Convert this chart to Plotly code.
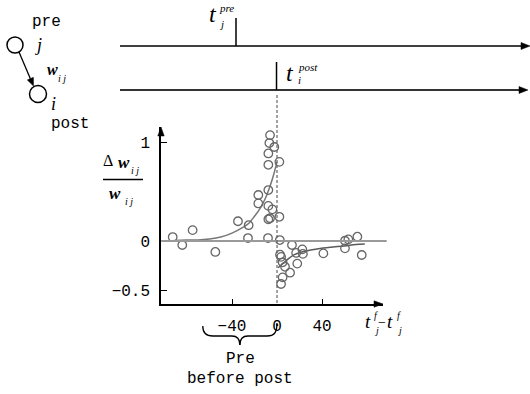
import plotly.graph_objects as go

# ---------------- data ----------------
pre_dt = [-92.7, -84.2, -75.0, -54.8, -34.7, -25.2, -25.8, -16.6, -16.6, -7.7,
          -7.7, -4.1, -7.7, -6.2, -8.0, -7.7, -7.7, -6.8, -6.2, -2.4]
pre_dw = [0.04, -0.04, 0.11, -0.11, 0.20, 0.16, 0.03, 0.465, 0.38, 0.515,
          0.355, 0.32, 0.22, 0.23, 0.03, 0.77, 0.885, 0.99, 1.07, 0.95]
post_dt = [2.1, 2.1, 2.5, 13.3, 2.7, 3.6, 5.0, 7.1, 11.6, 5.0, 3.6, 17.0,
           18.0, 22.5, 23.0, 41.2, 60.4, 63.4, 71.4, 60.4, 75.3, 97.5]
post_dw = [0.80, 0.245, 0.01, -0.04, -0.138, -0.16, -0.215, -0.26, -0.32, -0.367,
           -0.434, -0.12, -0.228, -0.084, -0.13, -0.125, 0.003, 0.017, 0.044, -0.074,
           -0.141, -0.007]

ltp_x = [-95, -80, -70, -60, -50, -40, -30, -25, -20, -15, -10, -6, -3, 0]
ltp_y = [0.00, 0.01, 0.01, 0.02, 0.04, 0.08, 0.14, 0.18, 0.25, 0.33, 0.44, 0.56, 0.67, 0.80]
ltd_x = [1, 3, 6, 10, 15, 22, 30, 41, 50, 60, 70, 78]
ltd_y = [-0.27, -0.25, -0.22, -0.18, -0.14, -0.11, -0.09, -0.07, -0.06, -0.05, -0.035, -0.03]

x_ticks = [-40, 0, 40]
x_ticklabels = ["\u221240", "0", "40"]
y_ticks = [-0.5, 0, 1]
y_ticklabels = ["\u22120.5", "0", "1"]
zero_line_x = [-103, 97.5]
brace_x = [-66, 0]

W, H = 530, 394
# data axis frame in pixels
X_RANGE = [-103.1, 94.2]
Y_RANGE = [-0.636, 1.152]
PX0, PX1 = 161, 383
PY0, PY1 = 304, 127   # bottom, top


def px(x):
    return PX0 + (x - X_RANGE[0]) / (X_RANGE[1] - X_RANGE[0]) * (PX1 - PX0)


def py(y):
    return PY0 + (y - Y_RANGE[0]) / (Y_RANGE[1] - Y_RANGE[0]) * (PY1 - PY0)


def P(xp, yp):
    return xp / W, 1 - yp / H


fig = go.Figure()

marker = dict(symbol="circle-open", size=8.5, color="#666666", line=dict(width=1.3))
fig.add_trace(go.Scatter(x=ltp_x, y=ltp_y, mode="lines", line=dict(color="#777777", width=1.5, shape="spline"),
                         hoverinfo="skip"))
fig.add_trace(go.Scatter(x=ltd_x, y=ltd_y, mode="lines", line=dict(color="#5a5a5a", width=1.5, shape="spline"),
                         hoverinfo="skip"))
fig.add_trace(go.Scatter(x=pre_dt, y=pre_dw, mode="markers", marker=marker, cliponaxis=False))
fig.add_trace(go.Scatter(x=post_dt, y=post_dw, mode="markers", marker=marker, cliponaxis=False))

shapes = []
annotations = []


def line(x0, y0, x1, y1, color="black", width=1.5, dash="solid"):
    a, b = P(x0, y0)
    c, d = P(x1, y1)
    shapes.append(dict(type="line", xref="paper", yref="paper", x0=a, y0=b, x1=c, y1=d,
                       line=dict(color=color, width=width, dash=dash), layer="above"))


def tri(tip, base_c, half, color="black"):
    tx, ty = tip
    bx, by = base_c
    dx, dy = tx - bx, ty - by
    L = (dx * dx + dy * dy) ** 0.5
    nx, ny = -dy / L * half, dx / L * half
    pts = [(tx, ty), (bx + nx, by + ny), (bx - nx, by - ny)]
    path = "M " + " L ".join("%f,%f" % P(*p) for p in pts) + " Z"
    shapes.append(dict(type="path", xref="paper", yref="paper", path=path,
                       fillcolor=color, line=dict(color=color, width=0.5), layer="above"))


def circle(cx, cy, r):
    a, b = P(cx - r, cy + r)
    c, d = P(cx + r, cy - r)
    shapes.append(dict(type="circle", xref="paper", yref="paper", x0=a, y0=b, x1=c, y1=d,
                       line=dict(color="black", width=1.5), layer="above"))


def text(xp, yp, t, size=16, family="Liberation Mono", color="black", xanchor="center"):
    a, b = P(xp, yp)
    annotations.append(dict(x=a, y=b, xref="paper", yref="paper", text=t, showarrow=False,
                            xanchor=xanchor, yanchor="middle",
                            font=dict(size=size, family=family, color=color)))


SERIF = "Liberation Serif"

# --- top timelines ---
line(120, 46, 522, 46, width=1.5)
tri((530, 46), (521, 46), 3.5)
line(120, 90, 520, 90, width=2, color="#333")
tri((528, 90), (519, 90), 3.5)
line(236, 18, 236, 46, width=1.5)
line(px(0) - 0.5, 62, px(0) - 0.5, 90, width=1.5)

text(213, 14, "<i>t</i>", 24, SERIF)
text(226, 8, "<i>pre</i>", 11, SERIF)
text(221, 24, "<i>j</i>", 11, SERIF)
text(290, 73, "<i>t</i>", 24, SERIF)
text(308, 67, "<i>post</i>", 11, SERIF)
text(299, 80, "<i>i</i>", 11, SERIF)

# --- neuron diagram ---
circle(15, 45, 8)
circle(38, 94, 8.5)
tip = (33.5, 86)
start = (19, 52)
dx, dy = tip[0] - start[0], tip[1] - start[1]
L = (dx * dx + dy * dy) ** 0.5
base = (tip[0] - 8 * dx / L, tip[1] - 8 * dy / L)
line(start[0], start[1], base[0], base[1], width=1.3)
tri(tip, base, 3.3)
text(46, 21.5, "pre", 16)
text(38, 45, "<i>j</i>", 18, SERIF)
text(52, 70, "<b><i>w</i></b>", 16, SERIF)
text(62, 78, "<i>i j</i>", 10, SERIF)
text(53, 104, "<i>i</i>", 18, SERIF)
text(70, 124, "post", 16)

# --- y label (fraction) ---
text(108, 160, "\u0394", 16, SERIF)
text(124, 162, "<b><i>w</i></b>", 17, SERIF)
text(135, 170, "<i>i j</i>", 10, SERIF)
line(103, 179.5, 143, 179.5, width=1.5)
text(115, 193, "<b><i>w</i></b>", 17, SERIF)
text(129, 201, "<i>i j</i>", 10, SERIF)

# --- axes arrows ---
tri((PX1, PY0), (PX1 - 9, PY0), 3.2)
tri((PX0, PY1), (PX0, PY1 + 9), 3.2)

# zero line and dashed line
line(px(zero_line_x[0]), py(0), px(zero_line_x[1]), py(0), color="#9a9a9a", width=2)
line(px(0), 95, px(0), PY0, color="#666", width=1.2, dash="3px,2px")

# x axis title
text(368, 321, "<i>t</i>", 19, SERIF)
text(376, 315, "<i>f</i>", 10, SERIF)
text(376, 330, "<i>j</i>", 10, SERIF)
text(382, 322, "\u2212", 14, SERIF)
text(390, 321, "<i>t</i>", 19, SERIF)
text(399, 315, "<i>f</i>", 10, SERIF)
text(399, 330, "<i>j</i>", 10, SERIF)

# --- brace ---
bl, br = px(brace_x[0]), px(brace_x[1])
bm = (bl + br) / 2
top, mid, bot = 326, 336, 345
fmt = "M %f,%f C %f,%f %f,%f %f,%f L %f,%f C %f,%f %f,%f %f,%f"
path = fmt % (*P(bl, top), *P(bl, mid - 3), *P(bl + 3, mid), *P(bl + 10, mid),
              *P(bm - 8, mid), *P(bm - 3, mid), *P(bm, mid + 2), *P(bm, bot))
path2 = fmt % (*P(br, top - 3), *P(br, mid - 3), *P(br - 3, mid), *P(br - 10, mid),
               *P(bm + 8, mid), *P(bm + 3, mid), *P(bm, mid + 2), *P(bm, bot))
for pth in (path, path2):
    shapes.append(dict(type="path", xref="paper", yref="paper", path=pth,
                       line=dict(color="black", width=1.3), layer="above"))

text(240, 359, "Pre", 16)
text(240, 379, "before post", 16)

fig.update_layout(
    width=W, height=H, autosize=False,
    margin=dict(l=0, r=0, t=0, b=0),
    paper_bgcolor="white", plot_bgcolor="white",
    showlegend=False,
    shapes=shapes, annotations=annotations,
    xaxis=dict(domain=[PX0 / W, PX1 / W], range=X_RANGE, showgrid=False, zeroline=False,
               showline=True, linecolor="black", linewidth=1.5,
               tickvals=x_ticks, ticktext=x_ticklabels, ticks="",
               minor=dict(tickvals=[-40, 40], ticks="inside", ticklen=5, tickcolor="black", tickwidth=1.3),
               tickfont=dict(family="Liberation Mono", size=16, color="black"),
               ticklabelstandoff=6, fixedrange=True),
    yaxis=dict(domain=[1 - PY0 / H, 1 - PY1 / H], range=Y_RANGE, showgrid=False, zeroline=False,
               showline=True, linecolor="black", linewidth=1.5,
               tickvals=y_ticks, ticktext=y_ticklabels, ticks="",
               minor=dict(tickvals=[-0.5, 1], ticks="inside", ticklen=6, tickcolor="black", tickwidth=1.3),
               tickfont=dict(family="Liberation Mono", size=16, color="black"),
               ticklabelstandoff=6, fixedrange=True),
)

fig.write_html("out.html")
